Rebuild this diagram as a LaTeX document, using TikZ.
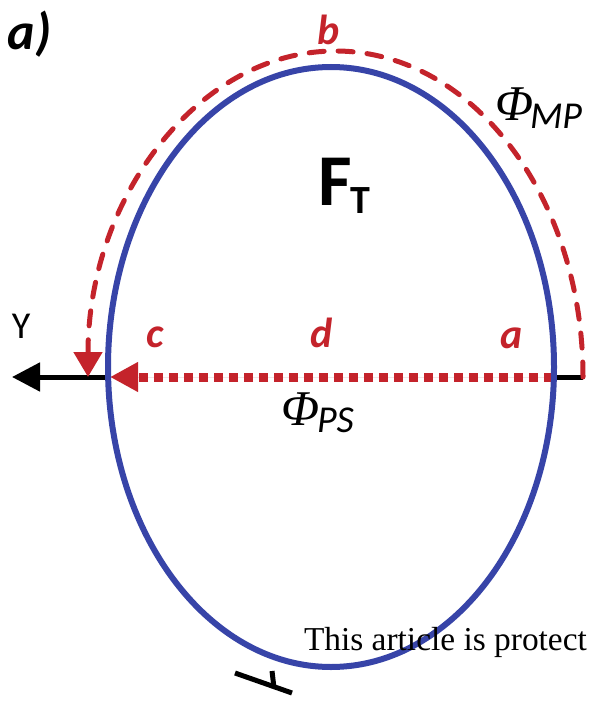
\documentclass[tikz,border=0pt]{standalone}
\usepackage{fontspec}
\setmainfont{Carlito}
\newfontfamily\phifont{Liberation Serif}
\newfontfamily\wmfont{Liberation Serif}
\usetikzlibrary{arrows.meta,shapes.geometric}
\definecolor{myred}{HTML}{C4232B}
\definecolor{myblue}{HTML}{3744A8}
\tikzset{
  lbl/.style={anchor=base west, inner sep=0pt, outer sep=0pt},
  redlbl/.style={lbl, text=myred, font=\fontsize{42}{42}\selectfont\bfseries\itshape},
  axisline/.style={line width=5pt, draw=black},
  ellout/.style={line width=6pt, draw=myblue},
  psline/.style={line width=9pt, draw=myred, dash pattern=on 9pt off 6pt},
  mpline/.style={line width=5pt, draw=myred, line cap=round, dash pattern=on 15pt off 14pt},
}
\begin{document}
\begin{tikzpicture}[x=1pt,y=-1pt]
\useasboundingbox (0,0) rectangle (593,701);
% coordinates
\coordinate (rtick) at (583,377);
\coordinate (ytip) at (12,377);
\coordinate (eright) at (553,377);
\coordinate (eleft) at (110,377);
% black axis
\draw[axisline, -{Triangle[length=28pt,width=28pt]}] (rtick) -- (ytip);
% ellipse fill
\node[ellipse, draw=none, fill=white, minimum width=446pt, minimum height=600pt, inner sep=0pt] (ell) at (331,367) {};
% red dotted PS line
\draw[psline, fill=myred, -{Triangle[length=28pt,width=28pt]}] (eright) -- (eleft);
% ellipse outline
\node[ellipse, ellout, minimum width=446pt, minimum height=600pt, inner sep=0pt] (ello) at (331,367) {};
% MP dashed arc
\draw[mpline, fill=none, -{Triangle[length=25pt,width=28pt,fill=myred]}] (rtick) arc[start angle=0, end angle=180, x radius=247.5pt, y radius=326pt];
% bottom-left mark
\coordinate (m1) at (235,673);
\coordinate (m2) at (292,693);
\coordinate (m3) at (272,671);
\coordinate (m4) at (274,688);
\draw[axisline] (m1) -- (m2);
\draw[axisline] (m3) -- (m4);
% labels
\node[lbl, font=\fontsize{52}{52}\selectfont\bfseries\itshape] (lab) at (8,50) {a)};
\node[redlbl] (lb) at (317,45) {b};
\node[redlbl] (lc) at (146,347) {c};
\node[redlbl] (ld) at (310,347) {d};
\node[redlbl] (la) at (500,348) {a};
\node[lbl, font=\fontsize{38}{38}\selectfont] (ly) at (12,338) {Y};
\node[lbl, font=\fontsize{73}{73}\selectfont\bfseries] (lf) at (318,205) {F};
\node[lbl, font=\fontsize{40}{40}\selectfont\bfseries] (lt) at (350,213) {T};
\node[lbl, font=\fontsize{50}{50}\selectfont\phifont\itshape] (phimp) at (495,120) {Φ};
\node[lbl, font=\fontsize{38}{38}\selectfont\itshape] (mp) at (530,128) {MP};
\node[lbl, font=\fontsize{50}{50}\selectfont\phifont\itshape] (phips) at (281,425) {Φ};
\node[lbl, font=\fontsize{38}{38}\selectfont\itshape] (ps) at (317,432) {PS};
% watermark
\node[lbl, font=\fontsize{33.4}{33.4}\selectfont\wmfont] (wm) at (304,650) {This article is protect};
\end{tikzpicture}
\end{document}
